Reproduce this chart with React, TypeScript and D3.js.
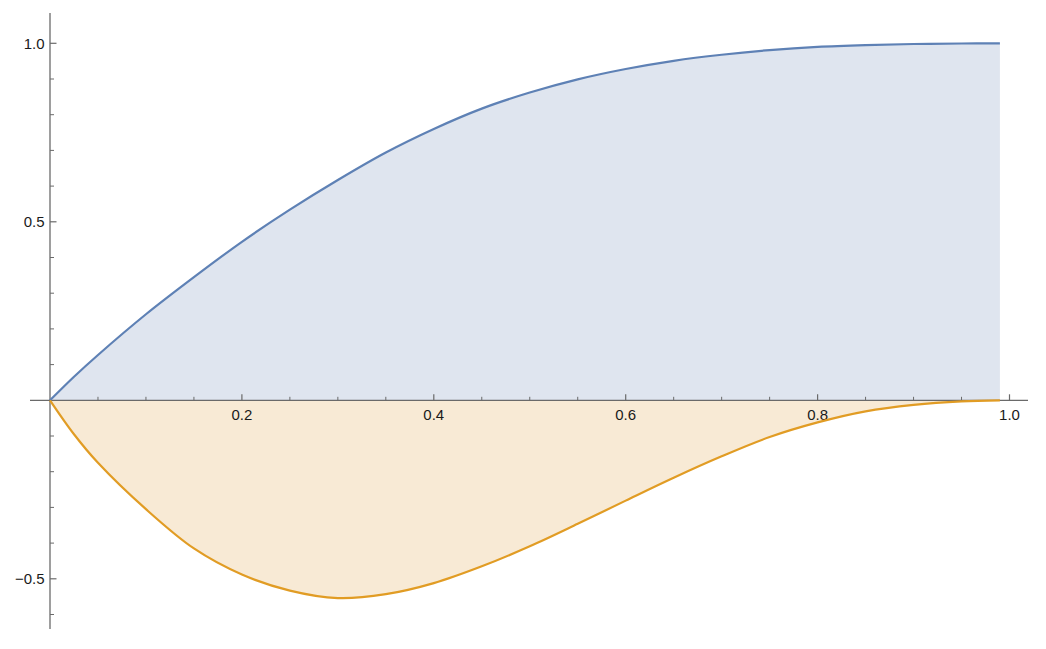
import React, { useEffect, useRef } from "react";
import * as d3 from "d3";

const xs = [0, 0.025, 0.05, 0.1, 0.15, 0.2, 0.25, 0.3, 0.35, 0.4, 0.45, 0.5, 0.55, 0.6, 0.65, 0.7, 0.75, 0.8, 0.85, 0.9, 0.95, 0.99];
const upper = [0, 0.066, 0.127, 0.241, 0.345, 0.444, 0.534, 0.617, 0.694, 0.76, 0.817, 0.862, 0.899, 0.928, 0.951, 0.968, 0.981, 0.99, 0.995, 0.998, 0.9995, 1.0];
const lower = [0, -0.095, -0.175, -0.305, -0.415, -0.488, -0.533, -0.554, -0.543, -0.512, -0.465, -0.409, -0.346, -0.281, -0.217, -0.157, -0.103, -0.062, -0.031, -0.013, -0.003, 0];

const xMajor = [0.2, 0.4, 0.6, 0.8, 1.0];
const yMajor = [-0.5, 0.5, 1.0];

const W = 1046;
const H = 649;

const App: React.FC = () => {
  const svgRef = useRef<SVGSVGElement | null>(null);

  useEffect(() => {
    if (!svgRef.current) return;
    const svg = d3.select(svgRef.current);
    svg.selectAll("*").remove();

    const x = d3.scaleLinear().domain([0, 1]).range([50, 1009.5]);
    const y = d3.scaleLinear().domain([-0.5, 1]).range([578.8, 43.3]);

    const axisColor = "#6a6a6a";
    const font = "'Liberation Sans', Arial, sans-serif";

    const upperPts = xs.map((t, i) => ({ t, v: upper[i] }));
    const lowerPts = xs.map((t, i) => ({ t, v: lower[i] }));

    const curve = d3.curveCatmullRom.alpha(0.5);

    const area = d3
      .area<{ t: number; v: number }>()
      .x((d) => x(d.t))
      .y0(y(0))
      .y1((d) => y(d.v))
      .curve(curve);

    const line = d3
      .line<{ t: number; v: number }>()
      .x((d) => x(d.t))
      .y((d) => y(d.v))
      .curve(curve);

    svg.append("path").datum(upperPts).attr("d", area).attr("fill", "#dfe5ef");
    svg.append("path").datum(lowerPts).attr("d", area).attr("fill", "#f8ead5");

    // axes
    const g = svg.append("g");
    g.append("line")
      .attr("x1", 30)
      .attr("x2", 1028)
      .attr("y1", y(0))
      .attr("y2", y(0))
      .attr("stroke", axisColor)
      .attr("stroke-width", 1.3);
    g.append("line")
      .attr("x1", x(0))
      .attr("x2", x(0))
      .attr("y1", 13)
      .attr("y2", 629)
      .attr("stroke", axisColor)
      .attr("stroke-width", 1.3);

    const xMinor = d3.range(1, 21).map((i) => i * 0.05).filter((v) => Math.round(v * 100) % 20 !== 0);
    const yMinor = d3.range(-6, 11).map((i) => i * 0.1).filter((v) => Math.abs(v) > 1e-9 && Math.round(v * 100) % 50 !== 0);

    g.selectAll(".xminor")
      .data(xMinor)
      .enter()
      .append("line")
      .attr("x1", (d) => x(d))
      .attr("x2", (d) => x(d))
      .attr("y1", y(0))
      .attr("y2", y(0) - 3.5)
      .attr("stroke", axisColor)
      .attr("stroke-width", 1);
    g.selectAll(".xmajor")
      .data(xMajor)
      .enter()
      .append("line")
      .attr("x1", (d) => x(d))
      .attr("x2", (d) => x(d))
      .attr("y1", y(0))
      .attr("y2", y(0) - 6)
      .attr("stroke", axisColor)
      .attr("stroke-width", 1.2);
    g.selectAll(".yminor")
      .data(yMinor)
      .enter()
      .append("line")
      .attr("x1", x(0))
      .attr("x2", x(0) + 4)
      .attr("y1", (d) => y(d))
      .attr("y2", (d) => y(d))
      .attr("stroke", axisColor)
      .attr("stroke-width", 1);
    g.selectAll(".ymajor")
      .data(yMajor)
      .enter()
      .append("line")
      .attr("x1", x(0))
      .attr("x2", x(0) + 6.5)
      .attr("y1", (d) => y(d))
      .attr("y2", (d) => y(d))
      .attr("stroke", axisColor)
      .attr("stroke-width", 1.2);

    const fmt = d3.format(".1f");
    g.selectAll(".xlabel")
      .data(xMajor)
      .enter()
      .append("text")
      .attr("x", (d) => x(d))
      .attr("y", y(0) + 20)
      .attr("text-anchor", "middle")
      .attr("font-family", font)
      .attr("font-size", 15)
      .attr("fill", "#1a1a1a")
      .text((d) => fmt(d));
    g.selectAll(".ylabel")
      .data(yMajor)
      .enter()
      .append("text")
      .attr("x", x(0) - 5.5)
      .attr("y", (d) => y(d) + 5.3)
      .attr("text-anchor", "end")
      .attr("font-family", font)
      .attr("font-size", 15)
      .attr("fill", "#1a1a1a")
      .text((d) => fmt(d));

    svg.append("path")
      .datum(upperPts)
      .attr("d", line)
      .attr("fill", "none")
      .attr("stroke", "#5e81b5")
      .attr("stroke-width", 2.2);
    svg.append("path")
      .datum(lowerPts)
      .attr("d", line)
      .attr("fill", "none")
      .attr("stroke", "#e19c24")
      .attr("stroke-width", 2.2);
  }, []);

  return (
    <div style={{ position: "absolute", left: 0, top: 0 }}>
      <svg ref={svgRef} width={W} height={H} style={{ display: "block", background: "#fff" }}></svg>
    </div>
  );
};

export default App;
